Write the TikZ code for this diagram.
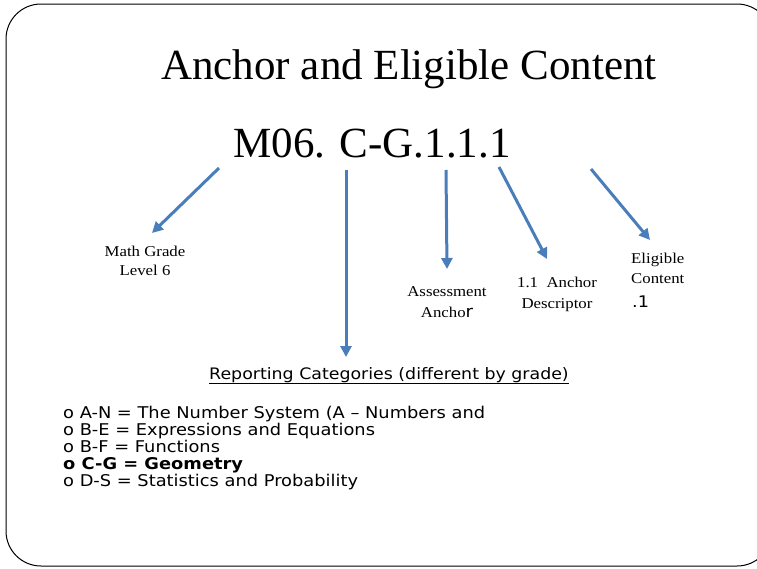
\documentclass[tikz,border=0pt]{standalone}
\usepackage{fontspec}
\setmainfont{Liberation Serif}
\newfontfamily\verd[FakeStretch=1.1]{DejaVu Sans}
\newfontfamily\lblfont[FakeStretch=1.12]{Liberation Serif}
\usetikzlibrary{arrows.meta}
\definecolor{arrowblue}{HTML}{4A7EBB}
\tikzset{
  conn/.style={draw=arrowblue, line width=3pt, -{Triangle[length=11pt,width=11pt]}},
  lbl/.style={inner sep=0pt, align=center, anchor=base},
}
\begin{document}
\begin{tikzpicture}[x=1pt,y=-1pt]
\useasboundingbox (0,0) rectangle (757,568);
\clip (0,0) rectangle (757,568);
\draw[line width=1pt, rounded corners=35pt] (6,4) rectangle (772,566);

\node[inner sep=0pt, anchor=base, font=\fontsize{43}{50}\selectfont] (title) at (409,79) {Anchor and Eligible Content};
\node[inner sep=0pt, anchor=base, font=\fontsize{43}{50}\selectfont] (code) at (372,157) {M06. C-G.1.1.1};

\coordinate (s1) at (219,168);
\coordinate (s2) at (346,170);
\coordinate (s3) at (446,170);
\coordinate (s4) at (499,167);
\coordinate (s5) at (591,169);
\coordinate (e1) at (152,233);
\coordinate (e2) at (346,357);
\coordinate (e3) at (447,269);
\coordinate (e4) at (547,259);
\coordinate (e5) at (650,240);

\draw[conn] (s1) -- (e1);
\draw[conn] (s2) -- (e2);
\draw[conn] (s3) -- (e3);
\draw[conn] (s4) -- (e4);
\draw[conn] (s5) -- (e5);

\node[lbl, font=\lblfont\fontsize{15}{19}\selectfont] (grade) at (145,275) {Math Grade\\Level 6};
\node[lbl, font=\lblfont\fontsize{15}{21}\selectfont] (assess) at (447,317) {Assessment\\Ancho{\verd\fontsize{16.5}{21}\selectfont r}};
\node[lbl, font=\lblfont\fontsize{15}{21}\selectfont] (desc) at (557,308) {1.1\ \ Anchor\\Descriptor};
\node[inner sep=0pt, align=left, anchor=base west, font=\lblfont\fontsize{15}{20}\selectfont] (elig) at (631,283) {Eligible\\Content};
\node[inner sep=0pt, anchor=base west, font=\verd\fontsize{16}{18}\selectfont] (dot1) at (632,307) {.1};

\node[inner sep=0pt, anchor=base, font=\verd\fontsize{15.8}{18}\selectfont] (rep) at (389,379) {\underline{Reporting Categories (different by grade)}};

\node[inner sep=0pt, anchor=base west, align=left, font=\verd\fontsize{16.2}{17}\selectfont] (list) at (63,486)
{o A-N = The Number System (A – Numbers and\\
o B-E = Expressions and Equations\\
o B-F = Functions\\
\textbf{o C-G = Geometry}\\
o D-S = Statistics and Probability};
\end{tikzpicture}
\end{document}
